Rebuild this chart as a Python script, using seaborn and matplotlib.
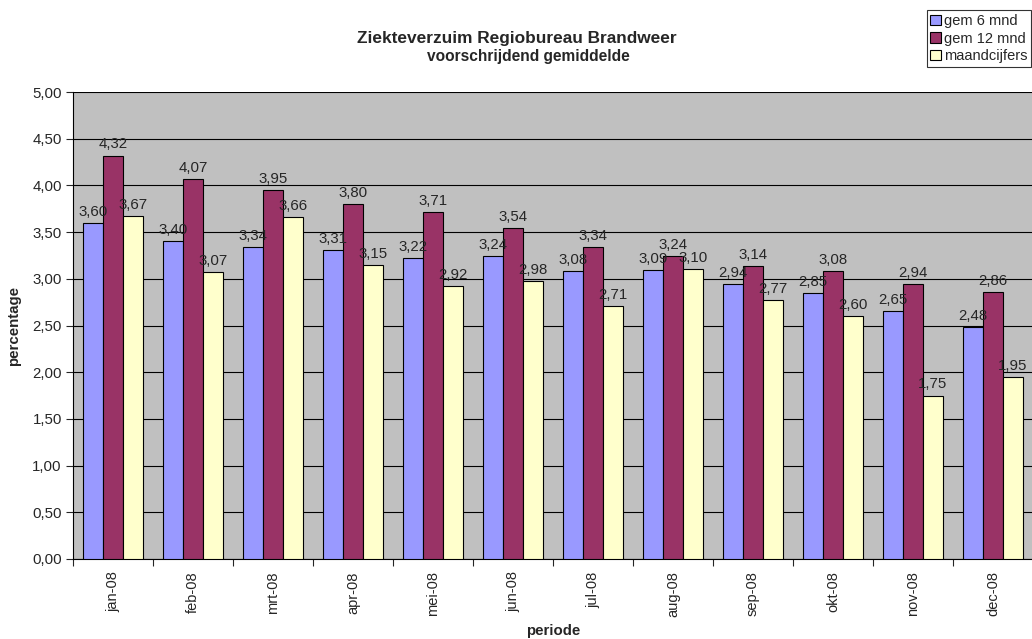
import numpy as np
import pandas as pd
import seaborn as sns
import matplotlib.pyplot as plt

months = ["jan-08", "feb-08", "mrt-08", "apr-08", "mei-08", "jun-08",
          "jul-08", "aug-08", "sep-08", "okt-08", "nov-08", "dec-08"]
gem6 = [3.60, 3.40, 3.34, 3.31, 3.22, 3.24, 3.08, 3.09, 2.94, 2.85, 2.65, 2.48]
gem12 = [4.32, 4.07, 3.95, 3.80, 3.71, 3.54, 3.34, 3.24, 3.14, 3.08, 2.94, 2.86]
maand = [3.67, 3.07, 3.66, 3.15, 2.92, 2.98, 2.71, 3.10, 2.77, 2.60, 1.75, 1.95]
series = ["gem 6 mnd", "gem 12 mnd", "maandcijfers"]
colors = ["#9999FF", "#993366", "#FFFFCC"]

df = pd.DataFrame({
    "periode": months * 3,
    "waarde": gem6 + gem12 + maand,
    "reeks": [series[0]] * 12 + [series[1]] * 12 + [series[2]] * 12,
})

sns.set_style("white")
plt.rcParams['font.family'] = ['Liberation Sans', 'DejaVu Sans']

fig = plt.figure(figsize=(10.32, 6.39), dpi=100)
ax = fig.add_axes([0.0707, 0.1252, 0.9303, 0.7308])
ax.set_facecolor("#C0C0C0")

sns.barplot(data=df, x="periode", y="waarde", hue="reeks", order=months,
            hue_order=series, palette=colors, width=0.74, gap=0,
            edgecolor="black", linewidth=0.8, saturation=1, ax=ax, zorder=3)

# waardelabels met komma als decimaalteken
for cont in ax.containers:
    ax.bar_label(cont, labels=[f"{b.get_height():.2f}".replace(".", ",") for b in cont],
                 padding=3, fontsize=10.8, zorder=4)

ax.set_ylim(0, 5)
ax.set_xlim(-0.5, 11.5)
yt = np.arange(0, 5.01, 0.5)
ax.set_yticks(yt)
ax.set_yticklabels([f"{v:.2f}".replace(".", ",") for v in yt], fontsize=10.8)
ax.yaxis.grid(True, color="black", linewidth=0.8, zorder=0)
ax.set_axisbelow(True)
ax.tick_params(axis="y", length=5, width=0.8, direction="out", left=True, pad=3)

ax.set_xticks(range(12))
ax.set_xticklabels(months, rotation=90, fontsize=10.5)
ax.set_xticks(np.arange(-0.5, 12, 1), minor=True)
ax.tick_params(axis="x", which="major", length=0, pad=9)
ax.tick_params(axis="x", which="minor", length=5, width=0.8, direction="out", bottom=True)

for s in ["left", "bottom"]:
    ax.spines[s].set_color("black")
    ax.spines[s].set_linewidth(0.8)
ax.spines["top"].set_visible(False)
ax.spines["right"].set_visible(False)

ax.set_xlabel("periode", fontsize=10.8, fontweight="bold", va="center")
ax.xaxis.set_label_coords(0.5, -0.154)
ax.set_ylabel("percentage", fontsize=10.8, fontweight="bold", labelpad=8)

fig.text(0.501, 0.94, "Ziekteverzuim Regiobureau Brandweer", ha="center", va="center",
         fontsize=12.4, fontweight="bold")
fig.text(0.512, 0.912, "voorschrijdend gemiddelde", ha="center", va="center",
         fontsize=11.2, fontweight="bold")

leg = ax.legend(loc="upper left", bbox_to_anchor=(0.898, 0.984), bbox_transform=fig.transFigure,
                frameon=True, fancybox=False, edgecolor="black", fontsize=10.5,
                handlelength=0.7, handleheight=0.7, handletextpad=0.25,
                borderpad=0.25, labelspacing=0.25, borderaxespad=0)
leg.get_frame().set_linewidth(0.8)

fig.savefig("out.png", dpi=100)
